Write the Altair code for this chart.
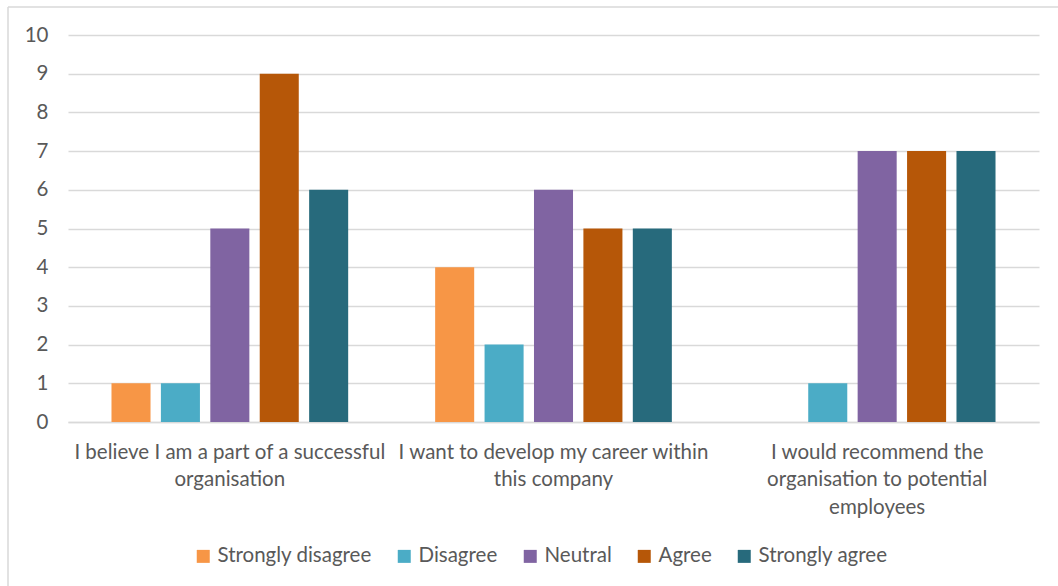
import altair as alt
import pandas as pd

categories = [
    "I believe I am a part of a successful|organisation",
    "I want to develop my career within|this company",
    "I would recommend the|organisation to potential|employees",
]
series = ["Strongly disagree", "Disagree", "Neutral", "Agree", "Strongly agree"]
colors = ["#F79646", "#4BACC6", "#8064A2", "#B65708", "#276A7C"]
values = {
    "Strongly disagree": [1, 4, 0],
    "Disagree": [1, 2, 1],
    "Neutral": [5, 6, 7],
    "Agree": [9, 5, 7],
    "Strongly agree": [6, 5, 7],
}

rows = []
for s in series:
    for c, v in zip(categories, values[s]):
        rows.append({"category": c, "series": s, "value": v})
df = pd.DataFrame(rows)

FONT = "Lato"
FS = 20.5
TXT = "#595959"
GRID = "#D9D9D9"

bars = alt.Chart(df).mark_bar().encode(
    x=alt.X(
        "category:N",
        sort=categories,
        scale=alt.Scale(paddingInner=0, paddingOuter=0),
        axis=alt.Axis(
            title=None,
            labelAngle=0,
            labelExpr="split(datum.label, '|')",
            labelFont=FONT,
            labelFontSize=FS,
            labelColor=TXT,
            labelBaseline="top",
            labelPadding=20,
            labelLineHeight=27.5,
            labelLimit=0,
            labelOverlap=False,
            ticks=False,
            grid=False,
            domain=True,
            domainColor=GRID,
            domainWidth=1.5,
        ),
    ),
    xOffset=alt.XOffset(
        "series:N",
        sort=series,
        scale=alt.Scale(paddingInner=0.21, paddingOuter=0.88),
    ),
    y=alt.Y(
        "value:Q",
        scale=alt.Scale(domain=[0, 10]),
        axis=alt.Axis(
            title=None,
            values=list(range(0, 11)),
            labelFont=FONT,
            labelFontSize=FS,
            labelColor=TXT,
            labelPadding=20,
            ticks=False,
            domain=False,
            grid=True,
            gridColor=GRID,
            gridWidth=1.5,
        ),
    ),
    color=alt.Color(
        "series:N",
        sort=series,
        scale=alt.Scale(domain=series, range=colors),
        legend=alt.Legend(
            title=None,
            orient="none",
            direction="horizontal",
            legendX=125,
            legendY=511,
            symbolType="square",
            symbolSize=169,
            symbolStrokeWidth=0,
            labelFont=FONT,
            labelFontSize=FS,
            labelColor=TXT,
            labelOffset=4,
            columnPadding=22,
            labelLimit=0,
        ),
    ),
)

border = alt.Chart(pd.DataFrame({"k": [0]})).mark_rule(color=GRID, strokeWidth=1.5).encode(
    x=alt.value(-60), x2=alt.value(1100), y=alt.value(-28)
)
border_left = alt.Chart(pd.DataFrame({"k": [0]})).mark_rule(color=GRID, strokeWidth=1.5).encode(
    x=alt.value(-60), y=alt.value(-28), y2=alt.value(700)
)

chart = (
    alt.layer(border, border_left, bars)
    .properties(
        width=971,
        height=387,
        autosize=alt.AutoSizeParams(type="none"),
        padding={"left": 68, "top": 35, "right": 19, "bottom": 164},
        view=alt.ViewBackground(stroke="transparent", strokeWidth=0),
    )
    .configure_view(strokeWidth=0, stroke="transparent")
    .configure_axisX(grid=False)
    .configure(background="white")
)

chart.save("out.html", embed_options={"renderer": "svg", "actions": False})
